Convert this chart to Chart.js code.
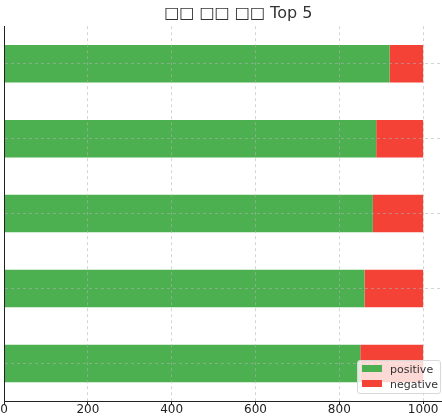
<!DOCTYPE html>
<html>
<head>
<meta charset="utf-8">
<script src="https://cdn.jsdelivr.net/npm/chart.js@4"></script>
<style>
  html, body { margin: 0; padding: 0; background: #fff; }
  #wrap { position: relative; width: 442px; height: 416px; }
  #legend {
    position: absolute; left: 357px; top: 360px; width: 82px; height: 32px;
    background: rgba(255,255,255,0.8); border: 1px solid #d8d8d8; border-radius: 3px;
    font: 11px "DejaVu Sans", sans-serif; color: #333;
  }
  #legend div { position: absolute; left: 4px; height: 12px; line-height: 12px; }
  #legend span { display: inline-block; width: 20px; height: 7px; margin-right: 8px; vertical-align: 1px; }
</style>
</head>
<body>
<div id="wrap">
  <canvas id="c"></canvas>
  <div id="legend"></div>
</div>
<script>
// categories (labels were not rendered in the source), top to bottom
const categories = ["", "", "", "", ""];
const positive = [920, 888, 880, 860, 850];
const negative = [80, 112, 120, 140, 150];
const xTicks = [0, 200, 400, 600, 800, 1000];

const GREEN = "#4caf50";
const RED   = "#f44336";
const GRID  = "rgba(176,176,176,0.55)";

// legend (overlay)
const legendEl = document.getElementById("legend");
[["positive", GREEN], ["negative", RED]].forEach(([name, col], i) => {
  const row = document.createElement("div");
  row.style.top = (3 + i * 15) + "px";
  row.innerHTML = `<span style="background:${col}"></span>${name}`;
  legendEl.appendChild(row);
});

Chart.defaults.font.family = "'DejaVu Sans', sans-serif";
Chart.defaults.color = "#222";

new Chart(document.getElementById("c"), {
  type: "bar",
  data: {
    labels: categories,
    datasets: [
      { label: "positive", data: positive, backgroundColor: GREEN, barPercentage: 0.5, categoryPercentage: 1 },
      { label: "negative", data: negative, backgroundColor: RED,   barPercentage: 0.5, categoryPercentage: 1 }
    ]
  },
  options: {
    indexAxis: "y",
    responsive: true,
    maintainAspectRatio: false,
    animation: false,
    layout: { padding: { left: 4, right: 0, top: 0, bottom: 0 } },
    plugins: {
      legend: { display: false },
      tooltip: { enabled: false },
      title: {
        display: true,
        text: "      □□ □□ □□ Top 5",
        color: "#333",
        font: { size: 16, weight: "normal" },
        padding: { top: 4, bottom: 3 }
      }
    },
    scales: {
      x: {
        stacked: true,
        min: 0,
        max: 1045,
        afterBuildTicks: (axis) => { axis.ticks = xTicks.map(v => ({ value: v })); },
        ticks: {
          font: { size: 12, lineHeight: 1 }, color: "#222", padding: 0, maxRotation: 0,
          callback: (v) => String(v)
        },
        grid: {
          z: 1, drawTicks: true, tickLength: 3, tickColor: "#222",
          color: (ctx) => (ctx.tick && ctx.tick.value === 0 ? "rgba(0,0,0,0)" : GRID)
        },
        border: { display: true, z: 2, color: "#222", dash: [3, 3] }
      },
      y: {
        stacked: true,
        ticks: { display: false },
        grid: { color: GRID, z: 1, offset: false, drawTicks: false },
        border: { display: true, z: 2, color: "#222", dash: [3, 3] }
      }
    }
  }
});
</script>
</body>
</html>
